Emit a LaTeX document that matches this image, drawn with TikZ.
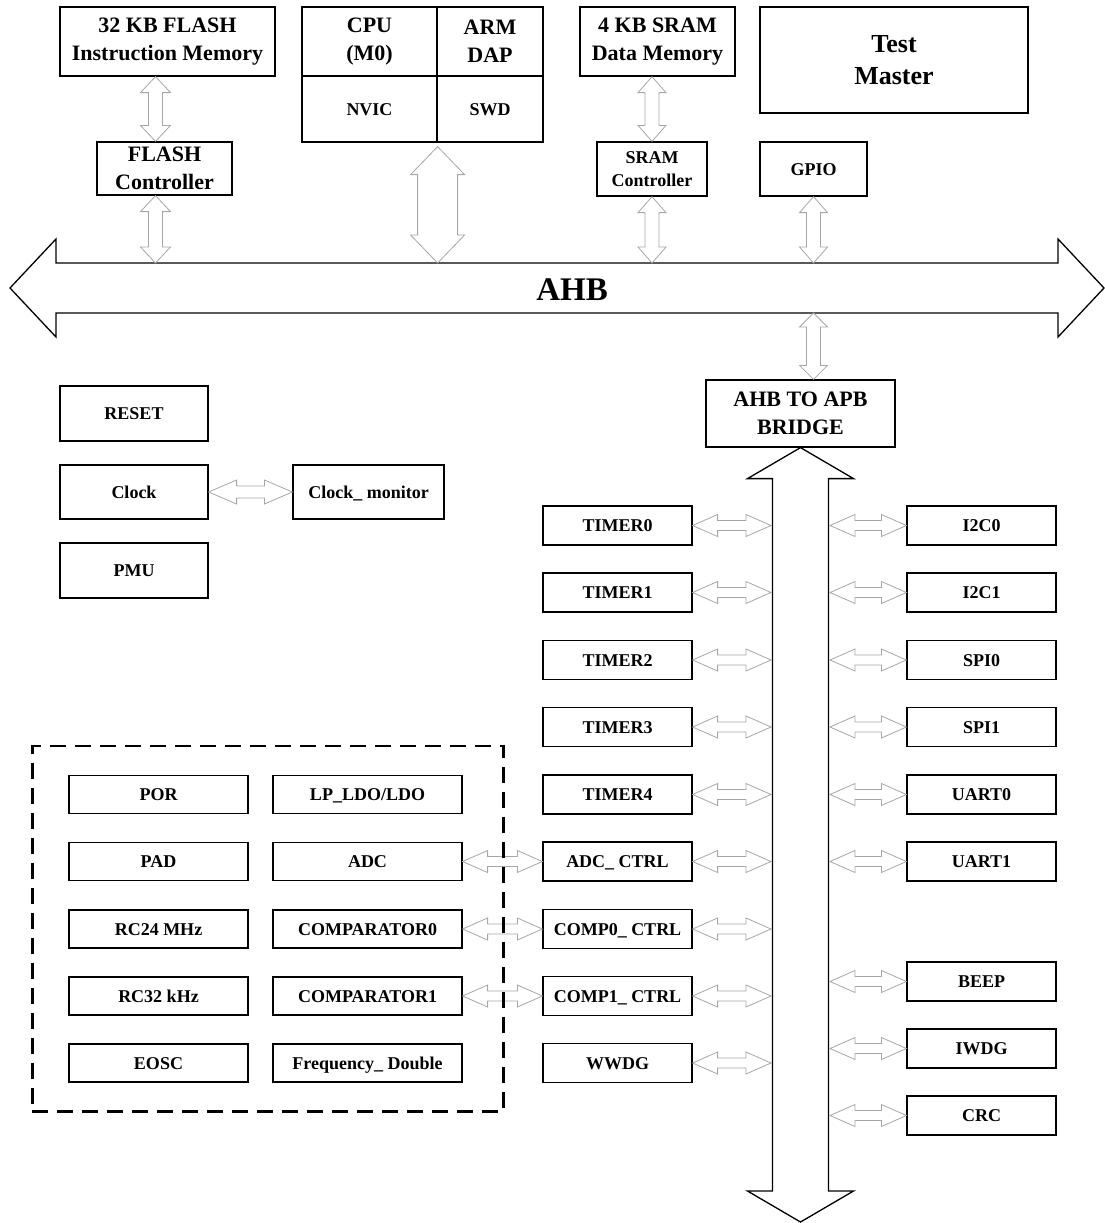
\documentclass[tikz,border=0pt]{standalone}
\usepackage{fontspec}
\setmainfont{Liberation Serif}
\usetikzlibrary{calc,fit}
% hollow double-headed arrow: [style]{from}{to}{shaft half}{head half}{head length}
\newcommand{\dblarrow}[6][link]{%
  \draw[#1] (#2) -- ($(#2)!#6!(#3)!#5!90:(#3)$) -- ($(#2)!#6!(#3)!#4!90:(#3)$)
    -- ($(#3)!#6!(#2)!#4!-90:(#2)$) -- ($(#3)!#6!(#2)!#5!-90:(#2)$) -- (#3)
    -- ($(#3)!#6!(#2)!#5!90:(#2)$) -- ($(#3)!#6!(#2)!#4!90:(#2)$)
    -- ($(#2)!#6!(#3)!#4!-90:(#3)$) -- ($(#2)!#6!(#3)!#5!-90:(#3)$) -- cycle;}

\begin{document}
\begin{tikzpicture}[x=1pt,y=-1pt]
	%
	% `block' is every box, `bigblock' the ones with larger text.
	% `oneline' keeps single-line labels centred on their capitals.
	% `link' is the grey hollow arrow, `bus' the black AHB/APB arrows.
	\tikzstyle{block} = [draw,line width=1.2pt,inner sep=0pt,align=center,font=\fontsize{18}{23}\selectfont\bfseries]
	\tikzstyle{bigblock} = [block,font=\fontsize{22}{28}\selectfont\bfseries]
	\tikzstyle{oneline} = [text height=12.5pt,text depth=0pt]
	\tikzstyle{periph} = [block,oneline,minimum width=149pt,minimum height=39pt]
	\tikzstyle{analog} = [block,oneline,minimum height=38pt]
	\tikzstyle{link} = [draw=gray!70,line width=0.8pt]
	\tikzstyle{bus} = [draw=black,line width=1.3pt]
	\tikzstyle{surround} = [draw,line width=2.6pt,dash pattern=on 16pt off 9pt]
	\useasboundingbox (0,0) rectangle (1105,1223);
	%
	% Memories and core
	\node[bigblock,minimum width=215pt,minimum height=69pt] (flashmem) at (167.5,41.5) {32 KB FLASH\\Instruction Memory};
	\node[bigblock,minimum width=135pt,minimum height=69pt] (cpu) at (369.5,41.5) {CPU\\(M0)};
	\node[bigblock,minimum width=106pt,minimum height=69pt] (dap) at (490,41.5) {ARM\\DAP};
	\node[block,oneline,minimum width=135pt,minimum height=66pt] (nvic) at (369.5,109) {NVIC};
	\node[block,oneline,minimum width=106pt,minimum height=66pt] (swd) at (490,109) {SWD};
	\node[bigblock,minimum width=155pt,minimum height=69pt] (srammem) at (657.5,41.5) {4 KB SRAM\\Data Memory};
	\node[block,font=\fontsize{26}{32}\selectfont\bfseries,minimum width=268pt,minimum height=106pt] (master) at (894,60) {Test\\Master};
	%
	% Controllers
	\node[bigblock,minimum width=135pt,minimum height=53pt] (flashctl) at (164.5,168.5) {FLASH\\Controller};
	\node[block,minimum width=110pt,minimum height=54pt] (sramctl) at (652,169) {SRAM\\Controller};
	\node[block,oneline,minimum width=107pt,minimum height=54pt] (gpio) at (813.5,169) {GPIO};
	%
	% AHB
	\coordinate (ahbw) at (10,288);
	\coordinate (ahbe) at (1104,288);
	\coordinate (ahbtop) at (0,263);
	\coordinate (ahbbot) at (0,313);
	\dblarrow[bus]{ahbw}{ahbe}{25pt}{49pt}{46pt}
	\node[font=\fontsize{33}{36}\selectfont\bfseries] (ahb) at (572,290) {AHB};
	%
	% Links to AHB
	\coordinate (fla) at ($(flashmem.south -| flashctl.north)+(-9,0)$);
	\coordinate (flb) at ($(flashctl.north)+(-9,0)$);
	\coordinate (flc) at ($(flashctl.south)+(-9,0)$);
	\dblarrow{fla}{flb}{7pt}{15pt}{16pt}
	\dblarrow{flc}{flc |- ahbtop}{7pt}{15pt}{16pt}
	\coordinate (cpua) at ($(nvic.south east)+(0,4)$);
	\dblarrow{cpua}{cpua |- ahbtop}{20pt}{27pt}{28pt}
	\dblarrow{sramctl.north |- srammem.south}{sramctl.north}{7pt}{14pt}{16pt}
	\dblarrow{sramctl.south}{sramctl.south |- ahbtop}{7pt}{14pt}{16pt}
	\dblarrow{gpio.south}{gpio.south |- ahbtop}{7pt}{14pt}{16pt}
	%
	% Bridge and APB
	\node[bigblock,minimum width=189pt,minimum height=67pt] (bridge) at (800.5,413.5) {AHB TO APB\\BRIDGE};
	\dblarrow{gpio.south |- ahbbot}{gpio.south |- bridge.north}{7pt}{14pt}{14pt}
	\coordinate (apbs) at (800.5,1222);
	\coordinate (apbw) at (771,0);
	\coordinate (apbe) at (830,0);
	\dblarrow[bus]{bridge.south}{apbs}{28pt}{53pt}{31pt}
	%
	% System blocks
	\node[block,oneline,minimum width=148pt,minimum height=55pt] (reset) at (134,413.5) {RESET};
	\node[block,oneline,minimum width=148pt,minimum height=54pt] (clock) at (134,492) {Clock};
	\node[block,oneline,minimum width=148pt,minimum height=55pt] (pmu) at (134,570.5) {PMU};
	\node[block,oneline,minimum width=151pt,minimum height=54pt] (clockmon) at (368.5,492) {Clock\_ monitor};
	\dblarrow{clock.east}{clockmon.west}{6pt}{12pt}{28pt}
	%
	% APB peripherals, left side
	\node[periph] (timer0) at (617.5,525.5) {TIMER0};
	\node[periph] (timer1) at (617.5,592.5) {TIMER1};
	\node[periph] (timer2) at (617.5,660) {TIMER2};
	\node[periph] (timer3) at (617.5,727) {TIMER3};
	\node[periph] (timer4) at (617.5,794.5) {TIMER4};
	\node[periph] (adcctrl) at (617.5,861.5) {ADC\_ CTRL};
	\node[periph] (comp0ctrl) at (617.5,929) {COMP0\_ CTRL};
	\node[periph] (comp1ctrl) at (617.5,996) {COMP1\_ CTRL};
	\node[periph] (wwdg) at (617.5,1063) {WWDG};
	\dblarrow{timer0.east}{timer0.east -| apbw}{5pt}{11pt}{25pt}
	\dblarrow{timer1.east}{timer1.east -| apbw}{5pt}{11pt}{25pt}
	\dblarrow{timer2.east}{timer2.east -| apbw}{5pt}{11pt}{25pt}
	\dblarrow{timer3.east}{timer3.east -| apbw}{5pt}{11pt}{25pt}
	\dblarrow{timer4.east}{timer4.east -| apbw}{5pt}{11pt}{25pt}
	\dblarrow{adcctrl.east}{adcctrl.east -| apbw}{5pt}{11pt}{25pt}
	\dblarrow{comp0ctrl.east}{comp0ctrl.east -| apbw}{5pt}{11pt}{25pt}
	\dblarrow{comp1ctrl.east}{comp1ctrl.east -| apbw}{5pt}{11pt}{25pt}
	\dblarrow{wwdg.east}{wwdg.east -| apbw}{5pt}{11pt}{25pt}
	%
	% APB peripherals, right side
	\node[periph] (i2c0) at (981.5,525.5) {I2C0};
	\node[periph] (i2c1) at (981.5,592.5) {I2C1};
	\node[periph] (spi0) at (981.5,660) {SPI0};
	\node[periph] (spi1) at (981.5,727) {SPI1};
	\node[periph] (uart0) at (981.5,794.5) {UART0};
	\node[periph] (uart1) at (981.5,861.5) {UART1};
	\node[periph] (beep) at (981.5,981.5) {BEEP};
	\node[periph] (iwdg) at (981.5,1048.5) {IWDG};
	\node[periph] (crc) at (981.5,1115.5) {CRC};
	\dblarrow{i2c0.west -| apbe}{i2c0.west}{5pt}{11pt}{25pt}
	\dblarrow{i2c1.west -| apbe}{i2c1.west}{5pt}{11pt}{25pt}
	\dblarrow{spi0.west -| apbe}{spi0.west}{5pt}{11pt}{25pt}
	\dblarrow{spi1.west -| apbe}{spi1.west}{5pt}{11pt}{25pt}
	\dblarrow{uart0.west -| apbe}{uart0.west}{5pt}{11pt}{25pt}
	\dblarrow{uart1.west -| apbe}{uart1.west}{5pt}{11pt}{25pt}
	\dblarrow{beep.west -| apbe}{beep.west}{5pt}{11pt}{25pt}
	\dblarrow{iwdg.west -| apbe}{iwdg.west}{5pt}{11pt}{25pt}
	\dblarrow{crc.west -| apbe}{crc.west}{5pt}{11pt}{25pt}
	%
	% Analog blocks
	\node[analog,minimum width=179pt] (por) at (158.5,794.5) {POR};
	\node[analog,minimum width=179pt] (pad) at (158.5,861.5) {PAD};
	\node[analog,minimum width=179pt] (rc24) at (158.5,929) {RC24 MHz};
	\node[analog,minimum width=179pt] (rc32) at (158.5,996) {RC32 kHz};
	\node[analog,minimum width=179pt] (eosc) at (158.5,1063) {EOSC};
	\node[analog,minimum width=189pt] (ldo) at (367.5,794.5) {LP\_LDO/LDO};
	\node[analog,minimum width=189pt] (adc) at (367.5,861.5) {ADC};
	\node[analog,minimum width=189pt] (comp0) at (367.5,929) {COMPARATOR0};
	\node[analog,minimum width=189pt] (comp1) at (367.5,996) {COMPARATOR1};
	\node[analog,minimum width=189pt] (freq) at (367.5,1063) {Frequency\_ Double};
	\dblarrow{adc.east}{adcctrl.west}{5pt}{11pt}{25pt}
	\dblarrow{comp0.east}{comp0ctrl.west}{5pt}{11pt}{25pt}
	\dblarrow{comp1.east}{comp1ctrl.west}{5pt}{11pt}{25pt}
	%
	% Dashed box
	\node[surround,fit=(por) (freq),inner xsep=38.5pt,inner ysep=29pt,xshift=2.5pt] (analogbox) {};
	%
\end{tikzpicture}
\end{document}
